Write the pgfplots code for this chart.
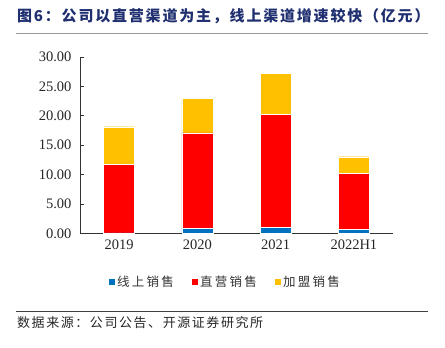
\documentclass[border=0pt]{standalone}
\usepackage{fontspec}
\usepackage{pgfplots}
\pgfplotsset{compat=1.18}
\setmainfont{Liberation Serif}
\newfontfamily\cjk{Noto Sans CJK SC}
\definecolor{cblue}{HTML}{0070C0}
\definecolor{cred}{HTML}{FF0000}
\definecolor{cyel}{HTML}{FFC000}
\definecolor{ctitle}{HTML}{1F2F70}
\begin{document}
\begin{tikzpicture}
\path[use as bounding box] (0pt,0pt) rectangle (445pt,348pt);
\node[anchor=west,inner sep=0pt,text=ctitle] at (17pt,332pt) {\cjk\fontsize{15}{18}\selectfont\bfseries\addfontfeature{LetterSpace=12}图6：公司以直营渠道为主，线上渠道增速较快（亿元）};
\draw[gray!80,line width=1.5pt] (16pt,314.5pt) -- (428pt,314.5pt);
\begin{axis}[
  at={(80pt,114.5pt)}, anchor=south west,
  scale only axis, width=313pt, height=176.5pt,
  ybar stacked, bar width=31pt,
  xmin=-0.5, xmax=3.5, ymin=0, ymax=30,
  axis x line=bottom, axis y line=left,
  axis line style={-, black!80, line width=0.8pt},
  xtick={0,1,2,3}, xticklabels={2019,2020,2021,2022H1},
  major x tick style={draw=none},
  extra x ticks={0.5,1.5,2.5,3.5}, extra x tick labels={},
  extra x tick style={major tick length=4pt, tick style={black!80, line width=0.8pt}},
  ytick={0,5,...,30},
  major tick length=4pt,
  tick align=inside,
  y tick style={black!80, line width=0.8pt},
  /pgf/number format/fixed, /pgf/number format/fixed zerofill, /pgf/number format/precision=2, /pgf/number format/assume math mode=true,
  tick label style={font=\fontsize{14.5}{16}\selectfont, text=black!85},
  xticklabel style={yshift=-3pt},
  yticklabel style={xshift=-5pt},
  legend columns=3,
  legend style={at={(0.463,-0.275)}, anchor=center, draw=none, fill=none,
    font=\cjk\fontsize{12.5}{14}\selectfont\addfontfeature{LetterSpace=18}, text=black!80,
    /tikz/every even column/.append style={column sep=15pt}},
  legend image code/.code={\fill[#1] (0pt,-3.5pt) rectangle (7pt,3.5pt);},
  every axis plot/.append style={draw=white, line width=0.3pt},
]
\addplot[fill=cblue] coordinates {(0,0.1) (1,0.9) (2,1.05) (3,0.7)};
\addplot[fill=cred] coordinates {(0,11.7) (1,16.2) (2,19.25) (3,9.5)};
\addplot[fill=cyel] coordinates {(0,6.35) (1,5.9) (2,6.9) (3,2.85)};
\legend{线上销售,直营销售,加盟销售}
\end{axis}
\draw[black!75,line width=0.9pt] (16pt,36.5pt) -- (428pt,36.5pt);
\node[anchor=west,inner sep=0pt,text=black!85] at (17pt,25pt) {\cjk\fontsize{13}{15}\selectfont\addfontfeature{LetterSpace=12}数据来源：公司公告、开源证券研究所};
\end{tikzpicture}
\end{document}
